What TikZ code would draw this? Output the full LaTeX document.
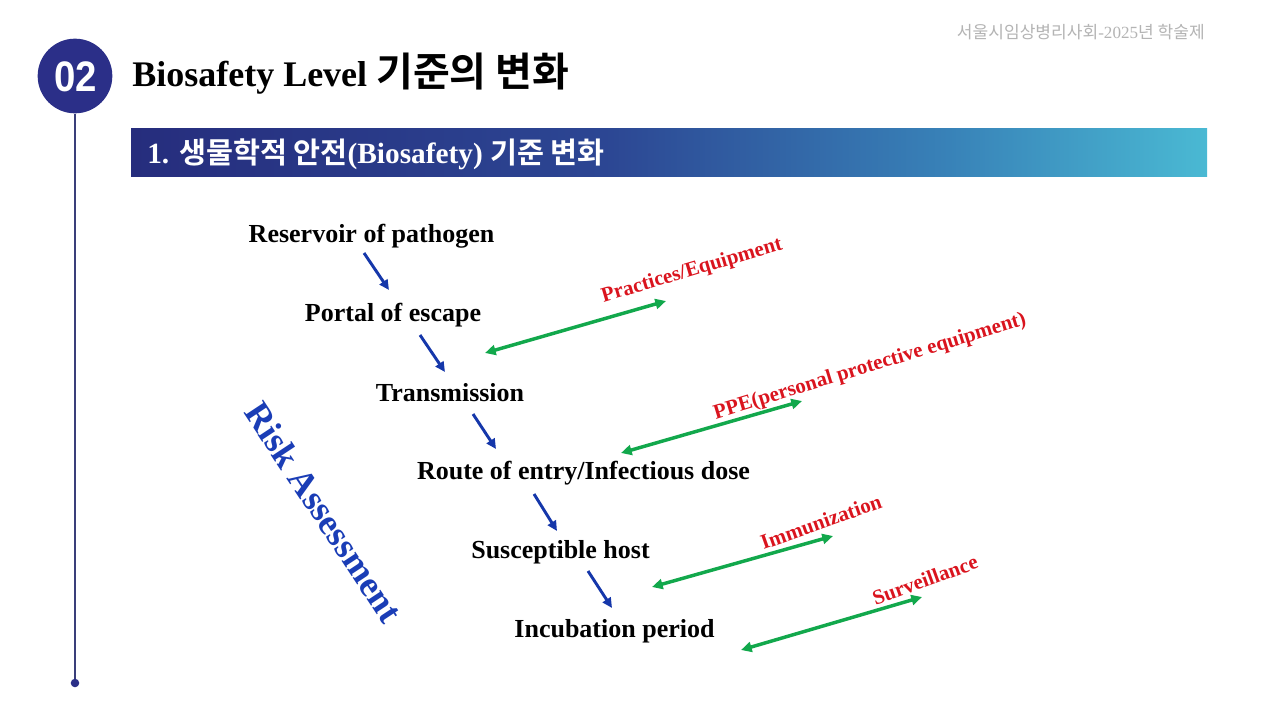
\documentclass[tikz,border=0pt]{standalone}
\usepackage{fontspec}
\usepackage{graphicx}
\setmainfont{Liberation Serif}
\newfontfamily\kr{Noto Sans CJK KR}[BoldFont={Noto Sans CJK KR Bold}]
\newfontfamily\arial{Liberation Sans}
\usetikzlibrary{arrows.meta}
\definecolor{navy}{HTML}{2B2F88}
\definecolor{linegray}{HTML}{3A3F7A}
\definecolor{bA}{HTML}{262D7D}
\definecolor{bB}{HTML}{2C4693}
\definecolor{bC}{HTML}{3882B8}
\definecolor{bD}{HTML}{4AB9D3}
\definecolor{arrblue}{HTML}{1537AA}
\definecolor{txtblue}{HTML}{1A3DB6}
\definecolor{arrgreen}{HTML}{12A84C}
\definecolor{lblred}{HTML}{DA141E}
\definecolor{hdrgray}{HTML}{B4B4B4}
\pgfdeclarehorizontalshading{bannershade}{100bp}{color(0bp)=(bA); color(25bp)=(bA); color(47bp)=(bB); color(63bp)=(bC); color(75bp)=(bD); color(100bp)=(bD)}
\tikzset{
  steplabel/.style={font=\bfseries\fontsize{19.5}{22}\selectfont, text=black, inner sep=0pt},
  ctrllabel/.style={font=\bfseries\fontsize{15.7}{18}\selectfont, text=lblred, inner sep=0pt},
  flowarrow/.style={draw=arrblue, line width=2.2pt, -{Triangle[length=7.5pt,width=7pt]}},
  ctrlarrow/.style={draw=arrgreen, line width=2.6pt, {Triangle[length=8pt,width=7.5pt]}-{Triangle[length=8pt,width=7.5pt]}},
}
\begin{document}
\begin{tikzpicture}[x=0.75pt,y=-0.75pt]
\useasboundingbox (0,0) rectangle (1280,720);
\fill[white] (0,0) rectangle (1280,720);
% header
\node[anchor=east, inner sep=0pt, text=hdrgray, font=\fontsize{12.8}{15}\selectfont] (hdr) at (1205,32) {\kr 서울시임상병리사회\rmfamily -2025\kr 년 학술제};
% timeline
\coordinate (lineend) at (75,683);
\node[circle, fill=navy, minimum size=56pt, inner sep=0pt] (num) at (75,76) {};
\node[text=white, font=\arial\bfseries\fontsize{32}{34}\selectfont, inner sep=0pt] (numtxt) at (76,77) {\scalebox{0.9}[1]{02}};
\draw[linegray, line width=0.9pt] (num.south) -- (lineend);
\fill[navy] (lineend) circle (3.2pt);
% title
\node[anchor=base west, inner sep=0pt, font=\bfseries\fontsize{27}{32}\selectfont] (title) at (132,87) {Biosafety Level {\kr\bfseries\fontsize{30}{32}\selectfont 기준의 변화}};
% banner
\shade[shading=bannershade] (131,129) rectangle (1207,177);
\node[anchor=west, inner sep=0pt, text=white, font=\bfseries\fontsize{22}{24}\selectfont] (banner) at (147,154) {1. {\kr\bfseries 생물학적 안전}(Biosafety) {\kr\bfseries 기준 변화}};
% steps
\node[steplabel] (s1) at (371.5,236) {Reservoir of pathogen};
\node[steplabel] (s2) at (393,315) {Portal of escape};
\node[steplabel] (s3) at (450,393) {Transmission};
\node[steplabel] (s4) at (583.5,473) {Route of entry/Infectious dose};
\node[steplabel] (s5) at (560.5,552) {Susceptible host};
\node[steplabel] (s6) at (614.5,631) {Incubation period};
% flow arrows
\coordinate (f1a) at (364,253); \coordinate (f1b) at (389,290);
\coordinate (f2a) at (420,335); \coordinate (f2b) at (445,372);
\coordinate (f3a) at (473,414); \coordinate (f3b) at (496,449);
\coordinate (f4a) at (534,494); \coordinate (f4b) at (557,531);
\coordinate (f5a) at (588,571); \coordinate (f5b) at (612,608);
\draw[flowarrow] (f1a) -- (f1b);
\draw[flowarrow] (f2a) -- (f2b);
\draw[flowarrow] (f3a) -- (f3b);
\draw[flowarrow] (f4a) -- (f4b);
\draw[flowarrow] (f5a) -- (f5b);
% control arrows
\coordinate (c1a) at (485,353); \coordinate (c1b) at (666,301);
\coordinate (c2a) at (621,453); \coordinate (c2b) at (802,401);
\coordinate (c3a) at (652,587); \coordinate (c3b) at (833,536);
\coordinate (c4a) at (741,650); \coordinate (c4b) at (922,597);
\draw[ctrlarrow] (c1a) -- (c1b);
\draw[ctrlarrow] (c2a) -- (c2b);
\draw[ctrlarrow] (c3a) -- (c3b);
\draw[ctrlarrow] (c4a) -- (c4b);
% control labels
\node[ctrllabel, rotate=16.5] (l1) at (692,271) {Practices/Equipment};
\node[ctrllabel, rotate=16.9] (l2) at (870,367) {PPE(personal protective equipment)};
\node[ctrllabel, rotate=19.5] (l3) at (821,522) {Immunization};
\node[ctrllabel, rotate=20] (l4) at (925,580) {Surveillance};
% risk assessment
\node[inner sep=0pt, text=txtblue, font=\bfseries\fontsize{27}{30}\selectfont, rotate=-56.5] (risk) at (324,512) {Risk Assessment};
\end{tikzpicture}
\end{document}
